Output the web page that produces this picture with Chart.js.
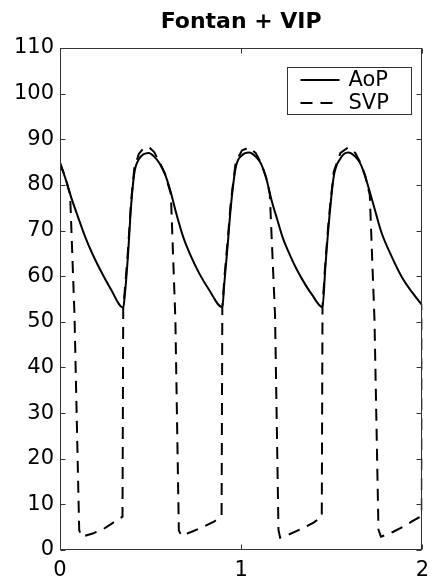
<!DOCTYPE html>
<html>
<head>
<meta charset="utf-8">
<script src="https://cdn.jsdelivr.net/npm/chart.js@4.4.1/dist/chart.umd.min.js"></script>
<style>
  html, body { margin: 0; padding: 0; background: #fff; }
  #wrap { width: 437px; height: 587px; }
</style>
</head>
<body>
<div id="wrap"><canvas id="lineChart" width="437" height="587"></canvas></div>
<script>
// Fontan + VIP: aortic pressure (AoP) and single ventricle pressure (SVP)
const chartTitle = 'Fontan + VIP';
const seriesLabels = ['AoP', 'SVP'];
const yTicks = [0, 10, 20, 30, 40, 50, 60, 70, 80, 90, 100, 110];
const xTicks = [0, 1, 2];

const aopTime = [0, 0.03, 0.06, 0.10, 0.14, 0.18, 0.23, 0.28,
  0.349, 0.357, 0.375, 0.392, 0.41, 0.435, 0.46, 0.49, 0.52,
  0.55, 0.58, 0.61, 0.64, 0.68, 0.72, 0.77, 0.82,
  0.896, 0.907, 0.925, 0.943, 0.97, 1.005, 1.044, 1.08,
  1.11, 1.14, 1.17, 1.20, 1.23, 1.265, 1.30, 1.337, 1.39,
  1.449, 1.465, 1.484, 1.511, 1.548, 1.59, 1.63,
  1.66, 1.685, 1.71, 1.74, 1.776, 1.831, 1.886, 1.941, 2.0];
const aopValue = [84.7, 81.4, 77.5, 72.9, 68.5, 64.8, 60.8, 57.2,
  53.1, 55.5, 64.4, 75.2, 82.5, 85.6, 86.7, 87.0, 86.2,
  84.7, 82.3, 78.6, 74.0, 68.6, 64.6, 60.5, 57.2,
  53.2, 58.4, 66.5, 75.2, 83.8, 86.5, 87.1, 86.2,
  84.6, 81.2, 76.3, 72.3, 68.4, 65.0, 62.0, 59.3, 56.0,
  53.2, 62.1, 71.6, 81.8, 85.8, 87.1, 86.2,
  84.5, 81.8, 78.5, 74.3, 69.4, 64.3, 59.9, 56.6, 53.6];

const svpTime = [0, 0.03, 0.056, 0.08, 0.106, 0.12, 0.18, 0.24, 0.29, 0.345,
  0.349, 0.357, 0.375, 0.392, 0.41, 0.435, 0.46, 0.49, 0.52, 0.55, 0.58, 0.612, 0.637, 0.656,
  0.67, 0.72, 0.78, 0.85, 0.892,
  0.896, 0.907, 0.925, 0.943, 0.97, 1.005, 1.044, 1.08, 1.11, 1.14, 1.158, 1.187, 1.206,
  1.215, 1.27, 1.33, 1.40, 1.445,
  1.449, 1.465, 1.484, 1.511, 1.548, 1.59, 1.63, 1.66, 1.685, 1.71, 1.736, 1.758,
  1.772, 1.84, 1.90, 1.94, 1.997, 2.0];
const svpValue = [84.9, 81.6, 77.8, 51.5, 4.3, 2.9, 3.6, 4.6, 5.9, 7.3,
  53.1, 56.5, 65.5, 76.2, 83.6, 86.8, 88.0, 88.3, 87.2, 84.9, 82.4, 78.0, 50.4, 4.3,
  3.1, 3.9, 4.9, 6.2, 7.5,
  53.2, 59.5, 67.6, 76.3, 85.0, 87.6, 88.2, 87.0, 84.8, 81.4, 78.0, 51.5, 4.4,
  2.7, 3.5, 4.6, 6.0, 7.3,
  53.2, 63.2, 72.7, 82.9, 87.0, 88.2, 87.0, 84.7, 82.0, 77.8, 50.4, 4.4,
  2.9, 4.0, 5.2, 6.2, 7.5, 53.6];

function toPoints(xs, ys) {
  return xs.map((x, i) => ({ x: x, y: ys[i] }));
}

const FONT = "'DejaVu Sans', sans-serif";

// box round the axes, inward ticks on all four sides, legend in the corner
const framePlugin = {
  id: 'frame',
  afterDraw(chart) {
    const ctx = chart.ctx;
    const a = chart.chartArea;
    const xs = chart.scales.x, ys = chart.scales.y;
    const L = Math.round(a.left) + 0.5, R = Math.round(a.right) - 0.5;
    const T = Math.round(a.top) + 0.5, B = Math.round(a.bottom) - 0.5;
    ctx.save();
    ctx.strokeStyle = '#333';
    ctx.lineWidth = 1;
    ctx.strokeRect(L, T, R - L, B - T);
    ctx.beginPath();
    ys.ticks.forEach(t => {
      const y = Math.round(ys.getPixelForValue(t.value)) + 0.5;
      ctx.moveTo(L, y); ctx.lineTo(L + 5, y);
      ctx.moveTo(R, y); ctx.lineTo(R - 5, y);
    });
    xs.ticks.forEach(t => {
      const x = Math.round(xs.getPixelForValue(t.value)) + 0.5;
      ctx.moveTo(x, B); ctx.lineTo(x, B - 5);
      ctx.moveTo(x, T); ctx.lineTo(x, T + 5);
    });
    ctx.stroke();

    // legend
    const bx = Math.round(a.right) - 134.5, by = Math.round(a.top) + 19.5;
    const bw = 124, bh = 47;
    ctx.fillStyle = '#fff';
    ctx.fillRect(bx, by, bw, bh);
    ctx.strokeRect(bx, by, bw, bh);
    ctx.font = '21px ' + FONT;
    ctx.textBaseline = 'middle';
    ctx.textAlign = 'left';
    chart.data.datasets.forEach((ds, i) => {
      const y = by + 12.5 + i * 23;
      ctx.strokeStyle = ds.borderColor;
      ctx.lineWidth = ds.borderWidth;
      ctx.setLineDash(ds.borderDash || []);
      ctx.beginPath();
      ctx.moveTo(bx + 13, y);
      ctx.lineTo(bx + 52, y);
      ctx.stroke();
      ctx.setLineDash([]);
      ctx.fillStyle = '#000';
      ctx.fillText(ds.label, bx + 61, y + 1);
    });
    ctx.restore();
  }
};

const ctx = document.getElementById('lineChart').getContext('2d');
const myChart = new Chart(ctx, {
  type: 'line',
  data: {
    datasets: [{
      label: seriesLabels[0],
      data: toPoints(aopTime, aopValue),
      borderColor: '#000',
      borderWidth: 2,
      pointRadius: 0,
      cubicInterpolationMode: 'monotone',
      fill: false
    }, {
      label: seriesLabels[1],
      data: toPoints(svpTime, svpValue),
      borderColor: '#000',
      borderWidth: 2,
      borderDash: [12, 8],
      pointRadius: 0,
      tension: 0,
      fill: false
    }]
  },
  options: {
    responsive: false,
    animation: false,
    layout: { padding: { left: 0, right: 13, top: 0, bottom: 0 } },
    plugins: {
      legend: { display: false },
      tooltip: { enabled: false },
      title: {
        display: true,
        text: chartTitle,
        fullSize: false,
        color: '#000',
        font: { family: FONT, size: 22, weight: 'bold', lineHeight: 1.2 },
        padding: { top: 9, bottom: 12.6 }
      }
    },
    scales: {
      x: {
        type: 'linear',
        min: 0,
        max: 2,
        afterBuildTicks: s => { s.ticks = xTicks.map(v => ({ value: v })); },
        afterFit: s => { s.height = 37; },
        grid: { display: false, drawTicks: false },
        border: { display: false },
        ticks: { color: '#000', padding: 8, maxRotation: 0, font: { family: FONT, size: 21 } }
      },
      y: {
        type: 'linear',
        min: 0,
        max: 110,
        afterBuildTicks: s => { s.ticks = yTicks.map(v => ({ value: v })); },
        afterFit: s => { s.width = 60; },
        grid: { display: false, drawTicks: false },
        border: { display: false },
        ticks: { color: '#000', padding: 6, font: { family: FONT, size: 21 } }
      }
    }
  },
  plugins: [framePlugin]
});
</script>
</body>
</html>
